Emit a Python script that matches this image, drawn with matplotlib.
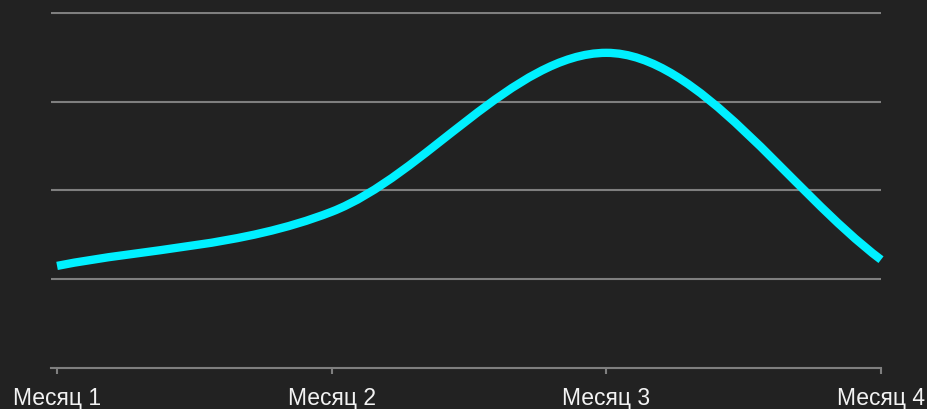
import numpy as np
import matplotlib
matplotlib.use('Agg')
import matplotlib.pyplot as plt
from matplotlib.path import Path
from matplotlib.patches import PathPatch

# данные
months = ['Месяц 1', 'Месяц 2', 'Месяц 3', 'Месяц 4']
values = [1.15, 1.76, 3.55, 1.22]
grid_levels = [1, 2, 3, 4]

bg = '#222222'
grid_col = '#7f7f7f'
line_col = '#00F0FF'


def monotone_path(x, y):
    # монотонная кривая (как cubicInterpolationMode: 'monotone')
    x = np.asarray(x, float)
    y = np.asarray(y, float)
    n = len(x)
    dx = np.diff(x)
    delta = np.diff(y) / dx
    m = np.zeros(n)
    m[0] = delta[0]
    m[-1] = delta[-1]
    for i in range(1, n - 1):
        if delta[i - 1] * delta[i] > 0:
            m[i] = (delta[i - 1] + delta[i]) / 2
    for i in range(n - 1):
        if delta[i] == 0:
            m[i] = m[i + 1] = 0
            continue
        a = m[i] / delta[i]
        b = m[i + 1] / delta[i]
        tau = a * a + b * b
        if tau > 9:
            k = 3 / np.sqrt(tau)
            m[i] = k * a * delta[i]
            m[i + 1] = k * b * delta[i]
    verts = [(x[0], y[0])]
    codes = [Path.MOVETO]
    for i in range(n - 1):
        h = dx[i] / 3
        verts += [(x[i] + h, y[i] + h * m[i]),
                  (x[i + 1] - h, y[i + 1] - h * m[i + 1]),
                  (x[i + 1], y[i + 1])]
        codes += [Path.CURVE4] * 3
    return Path(verts, codes)


fig = plt.figure(figsize=(9.28, 4.09), dpi=100, facecolor=bg)
ax = fig.add_axes([51 / 928, 41 / 409, 830 / 928, 356 / 409])
ax.set_facecolor(bg)

xi = np.arange(len(months))
ax.set_xlim(-0.022, 3.0)
ax.set_ylim(0, 4.01)

ax.add_patch(PathPatch(monotone_path(xi, values), fill=False, edgecolor=line_col,
                       lw=6, capstyle='butt', joinstyle='round', zorder=3, clip_on=False))

ax.set_yticks(grid_levels)
ax.yaxis.grid(True, color=grid_col, lw=1.5)
ax.tick_params(axis='y', left=False, labelleft=False)
ax.set_xticks(xi)
ax.set_xticklabels(months, fontsize=16.5, color='#f2f2f2', family='Liberation Sans')
ax.tick_params(axis='x', length=4, width=1.5, color=grid_col, pad=10)
for side in ['top', 'right', 'left']:
    ax.spines[side].set_visible(False)
ax.spines['bottom'].set_color(grid_col)
ax.spines['bottom'].set_linewidth(1.5)
ax.set_axisbelow(True)

fig.savefig('out.png', dpi=100, facecolor=bg)
